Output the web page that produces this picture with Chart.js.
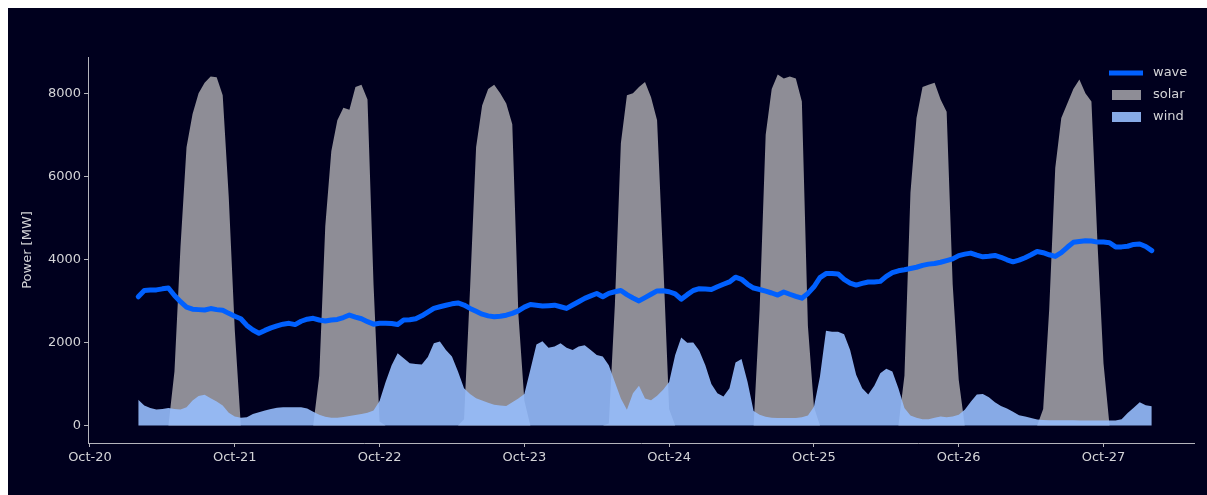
<!DOCTYPE html>
<html>
<head>
<meta charset="utf-8">
<script src="https://cdn.jsdelivr.net/npm/chart.js@4.4.1/dist/chart.umd.min.js"></script>
<style>
    body { margin: 0; background: #ffffff; }
    #caixa { position: absolute; left: 8px; top: 8px; width: 1199px; height: 487px; background: #00001e; }
</style>
</head>
<body>
<div id="caixa"><canvas id="graficoPotencia" width="1199" height="487"></canvas></div>
<script>

// hours counted from Oct-20 00:00, one value per hour from firstHour on
const firstHour = 8
const dayTicks = [0, 24, 48, 72, 96, 120, 144, 168]
const dayLabels = ["Oct-20", "Oct-21", "Oct-22", "Oct-23", "Oct-24", "Oct-25", "Oct-26", "Oct-27"]
const yTicks = [0, 2000, 4000, 6000, 8000]

const wave = [
    3100,3250,3260,3265,3290,3310,3130,2980,2850,2800,2790,2780,2815,2790,2775,2700,
    2630,2570,2410,2300,2220,2290,2350,2400,2440,2460,2430,2510,2560,2580,2540,2515,2540,2555,2600,2660,2610,2570,2500,2440,
    2460,2460,2455,2430,2540,2545,2570,2640,2730,2820,2860,2895,2930,2950,2900,2820,2750,2680,2640,2620,2630,2655,2700,2760,
    2850,2915,2895,2875,2885,2898,2860,2820,2900,2980,3060,3120,3177,3100,3180,3220,3250,3150,3070,3000,3080,3160,3240,3245,
    3220,3170,3040,3150,3250,3295,3285,3275,3340,3400,3456,3570,3520,3400,3310,3275,3235,3190,3140,3215,3160,3110,3065,3180,
    3340,3560,3657,3660,3650,3520,3430,3380,3420,3456,3456,3470,3590,3680,3725,3750,3780,3810,3855,3885,3900,3930,3970,4010,
    4090,4125,4150,4100,4060,4075,4095,4050,3990,3940,3980,4040,4110,4190,4160,4110,4070,4160,4290,4410,4430,4450,4440,4415,
    4415,4400,4300,4300,4315,4360,4370,4310,4210
]

const solar = [
    0,0,0,0,0,
    0,1300,4300,6700,7500,8000,8250,8400,8380,7950,5500,2300,0,
    0,0,0,0,0,0,0,0,0,0,0,
    0,1200,4800,6600,7350,7650,7600,8150,8200,7850,3400,100,0,
    0,0,0,0,0,0,0,0,0,0,0,
    0,150,3300,6700,7700,8100,8200,8000,7750,7250,2700,600,0,
    0,0,0,0,0,0,0,0,0,0,0,
    0,50,2900,6800,7950,8000,8150,8270,7900,7350,4000,400,0,
    0,0,0,0,0,0,0,0,0,0,0,
    0,0,2800,7000,8100,8450,8350,8400,8350,7800,2400,450,0,
    0,0,0,0,0,0,0,0,0,0,0,
    0,0,1200,5600,7400,8150,8200,8250,7850,7550,3400,1100,0,
    0,0,0,0,0,0,0,0,0,0,0,
    0,400,2800,6200,7400,7750,8100,8330,8000,7800,4400,1500,0,
    0,0,0,0,0,0,0
]

const wind = [
    620,480,420,385,400,420,400,385,440,600,710,740,660,580,480,310,
    220,185,200,280,320,360,400,430,440,440,440,440,410,330,260,210,190,185,205,230,255,280,310,360,
    590,1050,1450,1740,1620,1500,1480,1470,1650,1980,2020,1820,1660,1300,900,760,660,600,550,500,480,470,560,650,
    760,1350,1950,2030,1870,1900,1980,1870,1820,1900,1930,1820,1700,1660,1450,1050,650,383,780,960,650,610,720,862,
    1050,1700,2120,1990,2000,1800,1450,1000,780,700,900,1520,1600,1050,350,260,210,190,183,183,183,183,200,240,
    450,1180,2280,2260,2260,2200,1820,1220,900,750,960,1260,1370,1300,900,420,240,190,150,150,190,215,200,220,
    260,380,570,750,760,680,560,470,410,330,250,215,180,145,135,130,130,128,125,125,122,120,120,120,
    120,120,122,150,300,430,560,490,465
]

function pontos(valores){
    return valores.map((v, i) => ({ x: firstHour + i, y: v }))
}

const corTexto = "#d4d4d8"
const corEixo = "#b4b4bc"
const fonte = { family: "DejaVu Sans", size: 13 }

// legend drawn inside the plot, top right, like the original
const legendaDentro = {
    id: "legendaDentro",
    afterDraw(chart){
        const ctx = chart.ctx
        const area = chart.chartArea
        const itens = [0, 2, 1]
        let y = area.top + 16
        ctx.save()
        ctx.font = "13px 'DejaVu Sans'"
        ctx.textBaseline = "middle"
        itens.forEach(idx => {
            const ds = chart.data.datasets[idx]
            const x0 = area.right - 85
            if (ds.fill) {
                ctx.fillStyle = ds.backgroundColor
                ctx.fillRect(x0 + 3, y - 5, 29, 10)
            } else {
                ctx.strokeStyle = ds.borderColor
                ctx.lineWidth = ds.borderWidth
                ctx.beginPath()
                ctx.moveTo(x0, y)
                ctx.lineTo(x0 + 34, y)
                ctx.stroke()
            }
            ctx.fillStyle = corTexto
            ctx.fillText(ds.label, x0 + 44, y)
            y += 22
        })
        ctx.restore()
    }
}

const graf = document.getElementById("graficoPotencia")

new Chart(graf, {
    type: "line",
    data: {
        datasets: [
            {
                label: "wave",
                data: pontos(wave),
                borderColor: "#0060ff",
                borderWidth: 5,
                borderJoinStyle: "round",
                borderCapStyle: "round",
                pointRadius: 0,
                fill: false,
                order: 0
            },
            {
                label: "wind",
                data: pontos(wind),
                borderColor: "rgba(0,0,0,0)",
                borderWidth: 0,
                backgroundColor: "rgba(150,188,252,0.9)",
                pointRadius: 0,
                fill: "origin",
                order: 1
            },
            {
                label: "solar",
                data: pontos(solar),
                borderColor: "rgba(0,0,0,0)",
                borderWidth: 0,
                backgroundColor: "#8e8d96",
                pointRadius: 0,
                fill: "origin",
                order: 2
            }
        ]
    },
    options: {
        responsive: false,
        animation: false,
        layout: { padding: { left: 0, right: 13, top: 49, bottom: 0 } },
        plugins: {
            legend: { display: false },
            tooltip: { enabled: false }
        },
        scales: {
            x: {
                type: "linear",
                min: -0.33,
                max: 183,
                afterBuildTicks: (eixo) => { eixo.ticks = dayTicks.map(v => ({ value: v })) },
                afterFit: (eixo) => { eixo.height = 52 },
                ticks: {
                    color: corTexto,
                    font: fonte,
                    padding: 3,
                    maxRotation: 0,
                    callback: (v) => dayLabels[dayTicks.indexOf(v)]
                },
                grid: { display: true, drawOnChartArea: false, drawTicks: true, tickLength: 4, color: corEixo },
                border: { display: true, color: corEixo }
            },
            y: {
                min: -420,
                max: 8870,
                afterBuildTicks: (eixo) => { eixo.ticks = yTicks.map(v => ({ value: v })) },
                afterFit: (eixo) => { eixo.width = 80 },
                ticks: { color: corTexto, font: fonte, padding: 3, callback: (v) => String(v) },
                grid: { display: true, drawOnChartArea: false, drawTicks: true, tickLength: 4, color: corEixo },
                border: { display: true, color: corEixo },
                title: {
                    display: true,
                    text: "Power [MW]",
                    color: corTexto,
                    font: fonte,
                    padding: { top: 12, bottom: 0 }
                }
            }
        }
    },
    plugins: [legendaDentro]
})
</script>
</body>
</html>
